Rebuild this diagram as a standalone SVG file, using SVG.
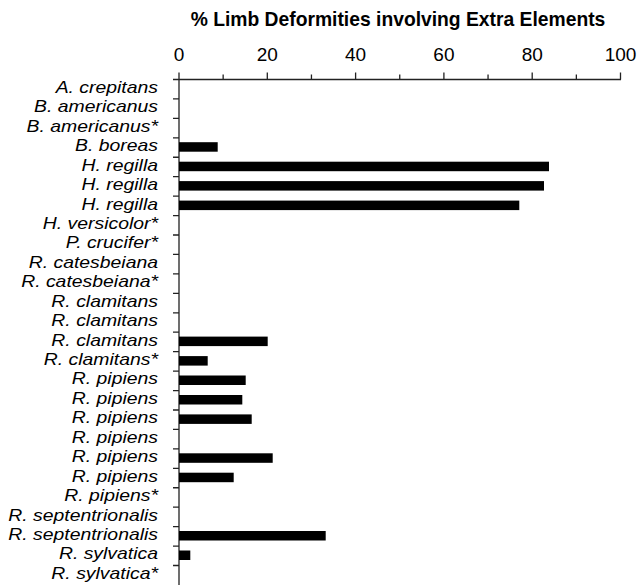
<svg xmlns="http://www.w3.org/2000/svg" width="639" height="585" viewBox="0 0 639 585">
<style>
.title{font-family:"Liberation Sans",Arial,sans-serif;font-weight:bold;font-size:19.3px;fill:#000;text-anchor:middle}
.tick{font-family:"Liberation Sans",Arial,sans-serif;font-size:19px;fill:#000;text-anchor:middle}
.lab{font-family:"Liberation Sans",Arial,sans-serif;font-style:italic;font-size:16.3px;fill:#000;text-anchor:end}
.ax{stroke:#222;stroke-width:1.3;fill:none}
.bar{fill:#000}
</style>
<rect width="639" height="585" fill="#fff"/>
<text class="title" x="398" y="26">% Limb Deformities involving Extra Elements</text>
<g id="x-axis">
<text class="tick" x="179" y="61">0</text>
<text class="tick" x="267.3" y="61">20</text>
<text class="tick" x="355.6" y="61">40</text>
<text class="tick" x="443.9" y="61">60</text>
<text class="tick" x="532.2" y="61">80</text>
<text class="tick" x="620.5" y="61">100</text>
<path class="ax" d="M173 79.5H621M179 72.5V585M267.3 72.5V79.5M355.6 72.5V79.5M443.9 72.5V79.5M532.2 72.5V79.5M620.5 72.5V79.5M223.15 74.5V79.5M311.45 74.5V79.5M399.75 74.5V79.5M488.05 74.5V79.5M576.35 74.5V79.5"/>
</g>
<g id="y-axis">
<path class="ax" d="M173 98.94H179M173 118.38H179M173 137.82H179M173 157.26H179M173 176.7H179M173 196.14H179M173 215.58H179M173 235.02H179M173 254.46H179M173 273.9H179M173 293.34H179M173 312.78H179M173 332.22H179M173 351.66H179M173 371.1H179M173 390.54H179M173 409.98H179M173 429.42H179M173 448.86H179M173 468.3H179M173 487.74H179M173 507.18H179M173 526.62H179M173 546.06H179M173 565.5H179"/>
<g transform="scale(1.19 1)">
<text class="lab" x="132.8" y="92.9">A. crepitans</text>
<text class="lab" x="132.8" y="112.4">B. americanus</text>
<text class="lab" x="132.8" y="131.8">B. americanus*</text>
<text class="lab" x="132.8" y="151.2">B. boreas</text>
<text class="lab" x="132.8" y="170.7">H. regilla</text>
<text class="lab" x="132.8" y="190.1">H. regilla</text>
<text class="lab" x="132.8" y="209.6">H. regilla</text>
<text class="lab" x="132.8" y="229">H. versicolor*</text>
<text class="lab" x="132.8" y="248.4">P. crucifer*</text>
<text class="lab" x="132.8" y="267.9">R. catesbeiana</text>
<text class="lab" x="132.8" y="287.3">R. catesbeiana*</text>
<text class="lab" x="132.8" y="306.8">R. clamitans</text>
<text class="lab" x="132.8" y="326.2">R. clamitans</text>
<text class="lab" x="132.8" y="345.6">R. clamitans</text>
<text class="lab" x="132.8" y="365.1">R. clamitans*</text>
<text class="lab" x="132.8" y="384.5">R. pipiens</text>
<text class="lab" x="132.8" y="404">R. pipiens</text>
<text class="lab" x="132.8" y="423.4">R. pipiens</text>
<text class="lab" x="132.8" y="442.8">R. pipiens</text>
<text class="lab" x="132.8" y="462.3">R. pipiens</text>
<text class="lab" x="132.8" y="481.7">R. pipiens</text>
<text class="lab" x="132.8" y="501.2">R. pipiens*</text>
<text class="lab" x="132.8" y="520.6">R. septentrionalis</text>
<text class="lab" x="132.8" y="540">R. septentrionalis</text>
<text class="lab" x="132.8" y="559.5">R. sylvatica</text>
<text class="lab" x="132.8" y="578.9">R. sylvatica*</text>
</g>
</g>
<g id="bars">
<rect class="bar" x="179" y="142.2" width="38.7" height="9.5"/>
<rect class="bar" x="179" y="161.7" width="370" height="9.5"/>
<rect class="bar" x="179" y="181.1" width="365" height="9.5"/>
<rect class="bar" x="179" y="200.6" width="340.3" height="9.5"/>
<rect class="bar" x="179" y="336.6" width="88.7" height="9.5"/>
<rect class="bar" x="179" y="356.1" width="28.7" height="9.5"/>
<rect class="bar" x="179" y="375.5" width="66.7" height="9.5"/>
<rect class="bar" x="179" y="395" width="63.3" height="9.5"/>
<rect class="bar" x="179" y="414.4" width="72.7" height="9.5"/>
<rect class="bar" x="179" y="453.3" width="93.7" height="9.5"/>
<rect class="bar" x="179" y="472.7" width="54.7" height="9.5"/>
<rect class="bar" x="179" y="531" width="146.7" height="9.5"/>
<rect class="bar" x="179" y="550.5" width="11.3" height="9.5"/>
</g>
</svg>
